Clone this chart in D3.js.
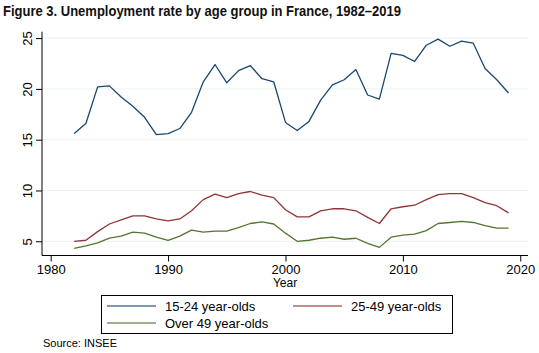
<!DOCTYPE html>
<html><head><meta charset="utf-8">
<script src="https://cdn.jsdelivr.net/npm/d3@7"></script>
<style>body{margin:0;background:#fff}svg{display:block}</style>
</head><body>
<svg id="c" width="539" height="353"></svg>
<script>
const years = d3.range(1982, 2020);
const youth = [15.6,16.6,20.2,20.3,19.2,18.3,17.2,15.5,15.6,16.1,17.7,20.7,22.4,20.6,21.8,22.3,21.0,20.7,16.7,15.9,16.8,18.9,20.4,20.9,21.9,19.4,19.0,23.5,23.3,22.7,24.3,24.9,24.2,24.7,24.5,22.0,20.9,19.6];
const prime = [5.0,5.1,5.95,6.7,7.1,7.5,7.5,7.2,7.0,7.2,8.0,9.1,9.65,9.3,9.7,9.9,9.55,9.3,8.1,7.4,7.4,8.0,8.2,8.2,8.0,7.35,6.75,8.2,8.4,8.55,9.1,9.6,9.7,9.7,9.3,8.8,8.5,7.8];
const older = [4.3,4.55,4.85,5.3,5.5,5.9,5.8,5.4,5.1,5.5,6.1,5.9,6.0,6.0,6.35,6.75,6.9,6.7,5.8,5.0,5.1,5.3,5.4,5.2,5.3,4.8,4.4,5.4,5.6,5.7,6.05,6.75,6.85,6.95,6.85,6.55,6.3,6.3];
const seriesNames = ["15-24 year-olds","25-49 year-olds","Over 49 year-olds"];
const seriesColors = ["#1a476f","#90353b","#55752f"];
const xTicks = [1980,1990,2000,2010,2020];
const yTicks = [5,10,15,20,25];

const svg = d3.select("#c");
const L = 42, R = 528, T = 31.7, B = 255.5;
const x = d3.scaleLinear().domain([1979.26, 2020.66]).range([L, R]);
const y = d3.scaleLinear().domain([3.6, 25.63]).range([B, T]);
const font = "'Liberation Sans', Arial, sans-serif";

// title
svg.append("text").attr("x", 3).attr("y", 16)
  .attr("font-family", "'Liberation Sans', Arial, sans-serif").attr("font-weight", "bold")
  .attr("font-size", 14.5).attr("textLength", 398).attr("lengthAdjust", "spacingAndGlyphs")
  .attr("fill", "#111").text("Figure 3. Unemployment rate by age group in France, 1982\u20132019");

// gridlines
svg.append("g").selectAll("line").data(yTicks).join("line")
  .attr("x1", L).attr("x2", R).attr("y1", d => y(d)).attr("y2", d => y(d))
  .attr("stroke", "#eaf2f3").attr("stroke-width", 1);

// y axis
const ya = svg.append("g").attr("transform", `translate(${L},0)`)
  .call(d3.axisLeft(y).tickValues(yTicks).tickSize(6).tickPadding(4).tickFormat(d3.format("d")));
ya.select(".domain").attr("d", `M0,${T}V${B}`).attr("stroke", "#000");
ya.selectAll(".tick line").attr("stroke", "#000");
ya.selectAll(".tick text").attr("font-family", font).attr("font-size", 13).attr("fill", "#000")
  .attr("text-anchor", "middle").attr("transform", "rotate(-90)").attr("x", 0).attr("y", -10.5)
  .attr("dy", "0");

// x axis
const xa = svg.append("g").attr("transform", `translate(0,${B})`)
  .call(d3.axisBottom(x).tickValues(xTicks).tickSize(6).tickPadding(3).tickFormat(d3.format("d")));
xa.select(".domain").attr("d", `M${L},0H${R}`).attr("stroke", "#000");
xa.selectAll(".tick line").attr("stroke", "#000");
xa.selectAll(".tick text").attr("font-family", font).attr("font-size", 13).attr("fill", "#000");

svg.append("text").attr("x", (L + R) / 2 + 0).attr("y", 287).attr("text-anchor", "middle")
  .attr("font-family", font).attr("font-size", 12).attr("fill", "#000").text("Year");

// lines
const data = [youth, prime, older];
const line = d3.line().x((d, i) => x(years[i])).y(d => y(d));
svg.append("g").selectAll("path").data(data).join("path")
  .attr("d", line).attr("fill", "none")
  .attr("stroke", (d, i) => seriesColors[i]).attr("stroke-width", 1.3)
  .attr("stroke-linejoin", "round");

// legend
const lg = svg.append("g");
lg.append("rect").attr("x", 101.5).attr("y", 295.5).attr("width", 351).attr("height", 38)
  .attr("fill", "#fff").attr("stroke", "#000").attr("stroke-width", 1);
const pos = [[107, 306, 165, 310.5], [293, 306, 351, 310.5], [107, 323, 165, 327.5]];
seriesNames.forEach((n, i) => {
  const p = pos[i];
  lg.append("line").attr("x1", p[0]).attr("x2", p[0] + 49).attr("y1", p[1]).attr("y2", p[1])
    .attr("stroke", seriesColors[i]).attr("stroke-width", 1.3).attr("opacity", 0.75);
  lg.append("text").attr("x", p[2]).attr("y", p[3]).attr("font-family", font)
    .attr("font-size", 13).attr("fill", "#000").text(n);
});

svg.append("text").attr("x", 43).attr("y", 347).attr("font-family", font)
  .attr("font-size", 11).attr("fill", "#000").text("Source: INSEE");
</script>
</body></html>
